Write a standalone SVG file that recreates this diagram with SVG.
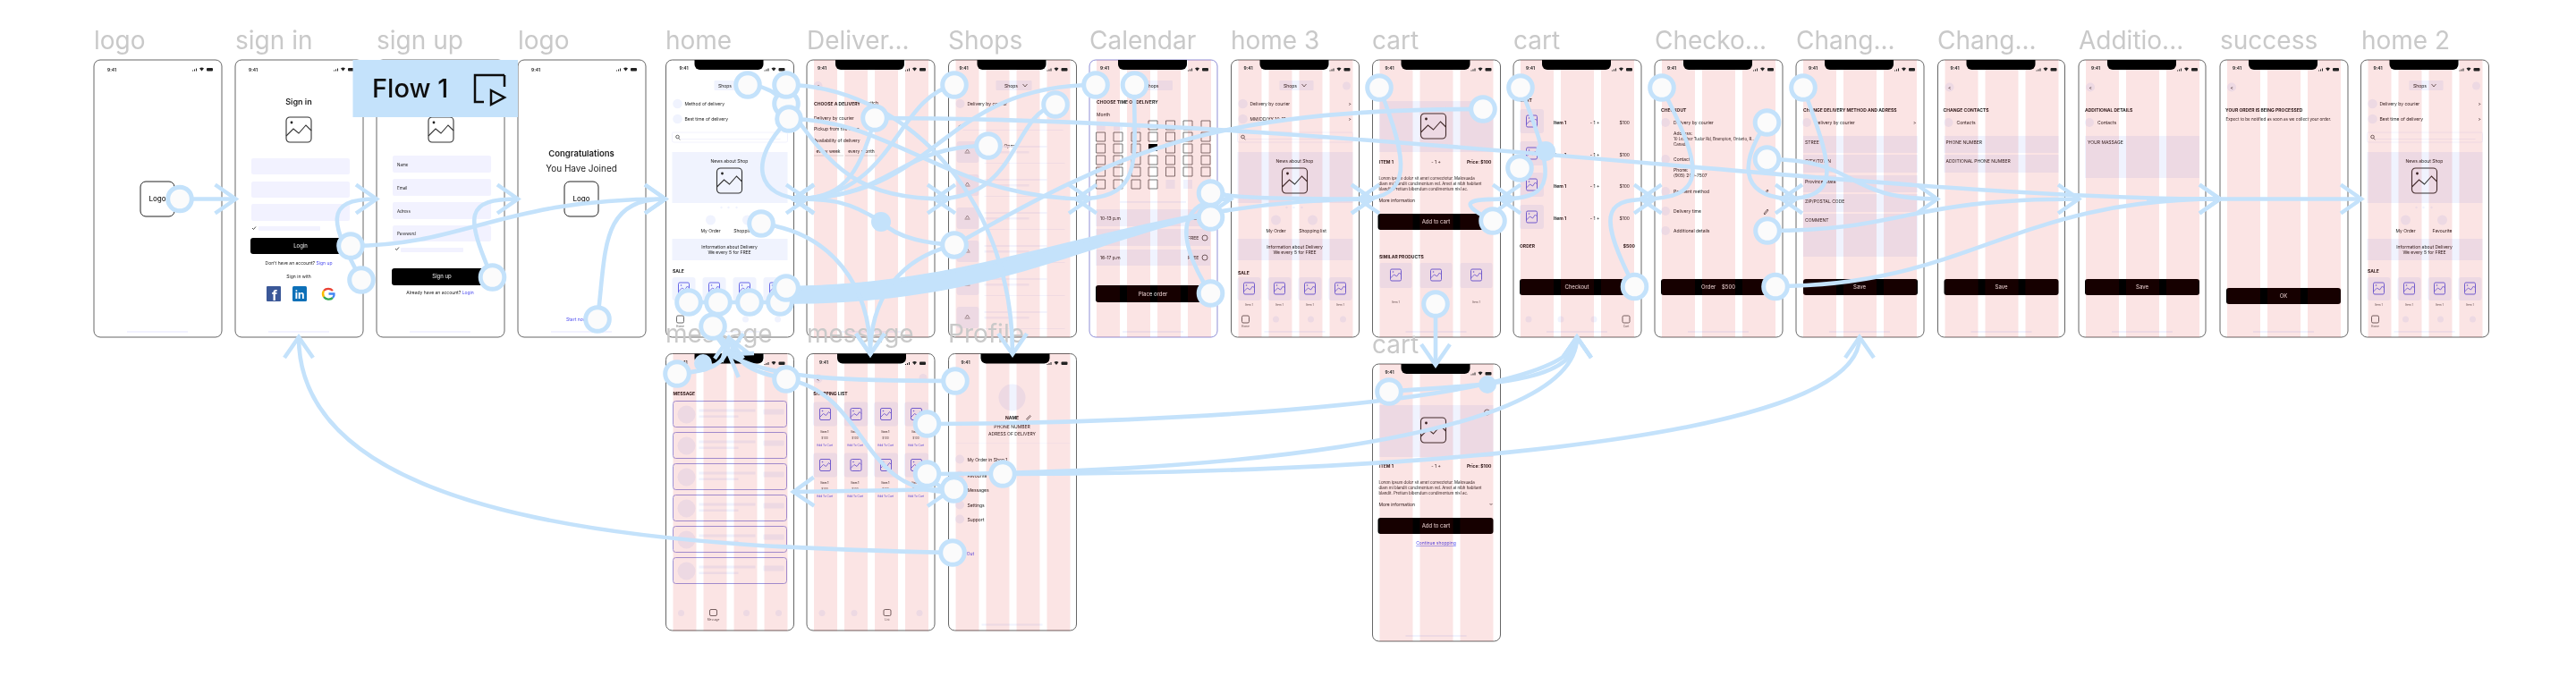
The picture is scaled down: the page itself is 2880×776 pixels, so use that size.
<svg xmlns="http://www.w3.org/2000/svg" width="2880" height="776" viewBox="0 0 2880 776">
<style>
text{font-family:Inter,"Liberation Sans",sans-serif;fill:#222;font-size:5px}
.lb{font-size:28px;fill:#c9c9c9}
.f{fill:#fff;stroke:#666;stroke-width:1}
.fc{fill:#fff;stroke:#8f8fd6;stroke-width:1}
.s{font-size:5px;font-weight:600}
.b{font-weight:700}
.m{text-anchor:middle}
.e{text-anchor:end}
.w{fill:#eee;font-size:6px;text-anchor:middle}
.k{fill:#4f4ff0}
.x{font-size:3.2px;fill:#555;text-anchor:middle}
.v{fill:#f2f2ff}
.v2{fill:#f0f3fe}
.pale{fill:#f0f1fd;opacity:.8}
.col{fill:#d90000;opacity:.106}
.btn{fill:#000}
.ln{fill:none;stroke:#c4e2fb;stroke-width:4.600}
.r{fill:#fbfbfb;stroke:#c4e2fb;stroke-width:5}
.d{fill:#c4e2fb}
.ic{fill:none;stroke:#444;stroke-width:.8}
.cell{fill:none;stroke:#555;stroke-width:.8}
</style>
<defs>
<filter id="soft" filterUnits="userSpaceOnUse" x="0" y="0" width="2880" height="776"><feGaussianBlur stdDeviation=".55"/></filter>
<marker id="a" markerUnits="userSpaceOnUse" markerWidth="32" markerHeight="44" refX="27" refY="22" orient="auto"><path d="M4,6 L27,22 L4,38" fill="none" stroke="#c4e2fb" stroke-width="4.500"/></marker>
<g id="st"><path d="M110,12.500h1v-1h-1zM112,12.500h1v-2h-1zM114,12.500h1v-3h-1z" fill="#222"/><path d="M118,9.500l2.500,3l2.500,-3a4,4 0 0 0 -5,0z" fill="#222"/><rect x="126" y="9" width="7" height="3.600" rx="1" fill="#222"/></g>
<path id="no" d="M32,0H109V5a6,6 0 0 1 -6,6H38a6,6 0 0 1 -6,-6z" fill="#000"/>
<g id="c4"><rect class="col" x="8" width="26" height="310"/><rect class="col" x="42" width="26" height="310"/><rect class="col" x="76" width="26" height="310"/><rect class="col" x="110" width="26" height="310"/></g>
<g id="c3"><rect class="col" x="8" width="37" height="310"/><rect class="col" x="53" width="37" height="310"/><rect class="col" x="98" width="37" height="310"/></g>
<g id="im"><rect width="28" height="28" rx="4" fill="none" stroke="#333" stroke-width="1.100"/><path d="M0,21L8,13L14,18L22,9L28,15" fill="none" stroke="#333" stroke-width="1.100"/><circle cx="6" cy="6" r="1.400" fill="#222"/></g>
<g id="ib"><rect width="12" height="13" rx="1.500" fill="none" stroke="#6666e6" stroke-width="1"/><path d="M0,10L4,6L7,8L10,4L12,6" fill="none" stroke="#6666e6" stroke-width=".9"/><circle cx="3" cy="3" r=".8" fill="#6666e6"/></g>
<g id="hb">
<rect class="v2" x="54" y="23" width="38" height="11" rx="1"/>
<circle class="v2" cx="13" cy="49" r="5.300"/><circle class="v2" cx="13" cy="66" r="5.300"/>
<rect x="7" y="81" width="129" height="11" rx="1.500" fill="none" stroke="#efeffc" stroke-width=".8"/>
<circle class="ic" cx="13" cy="86" r="1.800"/><path class="ic" d="M14.300,87.500l1.600,1.800"/>
<rect x="16" y="88" width="112" height=".8" fill="#efeffc"/>
<rect class="v2" x="7" y="103" width="129" height="57"/>
<use href="#im" x="57" y="121"/>
<circle class="v2" cx="62" cy="165" r="1.200"/><circle class="v2" cx="70" cy="165" r="1.200"/><circle class="v2" cx="79" cy="165" r="1.200"/>
<circle class="v2" cx="50" cy="179" r="5.500"/><circle class="v2" cx="91" cy="179" r="5.500"/>
<rect class="v2" x="7" y="200" width="129" height="24"/>
<rect class="v2" x="7" y="243" width="26" height="26" rx="3"/><rect class="v2" x="41" y="243" width="26" height="26" rx="3"/><rect class="v2" x="75" y="243" width="26" height="26" rx="3"/><rect class="v2" x="109" y="243" width="26" height="26" rx="3"/>
<use href="#ib" x="14" y="249"/><use href="#ib" x="48" y="249"/><use href="#ib" x="82" y="249"/><use href="#ib" x="116" y="249"/>
<rect x="12" y="286" width="8" height="8" rx="1.500" class="ic"/>
<circle class="v2" cx="50" cy="290" r="3.500"/><circle class="v2" cx="89" cy="290" r="3.500"/><circle class="v2" cx="125" cy="290" r="3.500"/>
<rect class="v2" x="37" y="303" width="68" height="1.800"/>
</g>
<g id="tile"><rect class="v2" width="27" height="27" rx="3"/><use href="#ib" x="7.500" y="7"/></g>
<g id="tile2"><rect class="v2" width="36" height="28" rx="2"/><use href="#ib" x="12" y="7"/></g>
<g id="shoprow"><rect class="v2" x="9" width="25" height="24" rx="3"/><path fill="none" stroke="#555" stroke-width=".6" d="M19,12l2,-3l2,3m-5,1h6"/><rect class="pale" x="40" y="5" width="70" height="2"/><rect class="pale" x="40" y="11" width="50" height="2.500"/><rect class="pale" x="40" y="24" width="90" height="1"/></g>
<g id="msg"><rect x="0" y="0" width="127" height="29" rx="3" fill="none" stroke="#8f8fe0" stroke-width=".9"/><circle class="v2" cx="15" cy="15" r="10"/><rect class="v2" x="29" y="9" width="63" height="3"/><rect class="v2" x="29" y="16" width="44" height="2.500"/><rect class="v2" x="101" y="9" width="23" height="6" rx="1"/></g>
</defs>
<g id="canvas" filter="url(#soft)">
<g id="frames">
<g id="f-logo" transform="translate(105 67)"><rect class="f" width="143" height="310" rx="7"/><text x="15" y="12.500" class="s">9:41</text><use href="#st"/><rect x="52" y="136" width="38" height="39" rx="6" fill="#fff" stroke="#222" stroke-width="1"/><text x="71" y="158" class="m" font-weight="500" style="font-size:8px">Logo</text><rect class="v" x="37" y="303" width="68" height="2"/></g>

<g id="f-signin" transform="translate(263 67)"><rect class="f" width="143" height="310" rx="7"/><text x="15" y="12.500" class="s">9:41</text><use href="#st"/>
<text x="71" y="50" class="m" style="font-size:9px;font-weight:600">Sign in</text><use href="#im" x="57" y="64"/>
<rect class="v" x="18" y="110" width="110" height="18" rx="2"/><rect class="v" x="18" y="136" width="110" height="18" rx="2"/><rect class="v" x="18" y="161" width="110" height="19" rx="2"/>
<path d="M19,188l1.500,1.500l2.500,-3" fill="none" stroke="#222" stroke-width=".8"/><rect class="v" x="26" y="186" width="69" height="5" rx="1"/>
<rect class="btn" x="17" y="199" width="112" height="18" rx="3"/><text x="73" y="210" class="w">Login</text>
<text x="71" y="229" class="m">Don't have an account? <tspan class="k">Sign up</tspan></text><text x="71" y="244" class="m">Sign in with</text>
<rect x="35" y="253" width="16" height="17" rx="1" fill="#3b5998"/><text x="44" y="269" style="font-size:15px;fill:#fff;font-weight:700" class="m">f</text>
<rect x="64" y="253" width="16" height="17" rx="1.500" fill="#0d6fb8"/><text x="72" y="267" style="font-size:12px;fill:#fff;font-weight:700" class="m">in</text>
<path d="M109,258a7,7 0 0 0 -10,0" fill="none" stroke="#ea4335" stroke-width="2.300"/><path d="M99,258a7,7 0 0 0 0,7" fill="none" stroke="#fbbc05" stroke-width="2.300"/><path d="M99,265a7,7 0 0 0 10,1" fill="none" stroke="#34a853" stroke-width="2.300"/><path d="M109,266q2,-2 1.500,-4.500h-6" fill="none" stroke="#4285f4" stroke-width="2.300"/>
<rect class="v" x="37" y="303" width="68" height="2"/></g>

<g id="f-signup" transform="translate(421 67)"><rect class="f" width="143" height="310" rx="7"/><use href="#im" x="58" y="64"/>
<rect class="v" x="18" y="107" width="110" height="19" rx="2"/><rect class="v" x="18" y="133" width="110" height="19" rx="2"/><rect class="v" x="18" y="159" width="110" height="19" rx="2"/><rect class="v" x="18" y="185" width="110" height="18" rx="2"/>
<text x="23" y="119" style="font-size:4.500px">Name</text><text x="23" y="145" style="font-size:4.500px">Email</text><text x="23" y="171" style="font-size:4.500px">Adress</text><text x="23" y="196" style="font-size:4.500px">Password</text>
<path d="M21,211l1.500,1.500l2.500,-3" fill="none" stroke="#222" stroke-width=".8"/><rect class="v" x="27" y="210" width="70" height="5" rx="1"/>
<rect class="btn" x="17" y="233" width="111" height="19" rx="3"/><text x="73" y="244" class="w">Sign up</text>
<text x="71" y="262" class="m">Already have an account? <tspan class="k">Login</tspan></text><rect class="v" x="37" y="303" width="68" height="2"/></g>

<g id="f-logo2" transform="translate(579 67)"><rect class="f" width="143" height="310" rx="7"/><text x="15" y="12.500" class="s">9:41</text><use href="#st"/>
<text x="71" y="108" class="m" style="font-size:9.500px;font-weight:600">Congratulations</text><text x="71" y="124.500" class="m" style="font-size:10px">You Have Joined</text>
<rect x="52" y="136" width="38" height="39" rx="6" fill="#fff" stroke="#222" stroke-width="1"/><text x="71" y="158" class="m" font-weight="500" style="font-size:8px">Logo</text><text x="54" y="292" class="k">Start now</text><rect class="v" x="37" y="303" width="68" height="2"/></g>

<g id="f-home" transform="translate(744.500 67)"><rect class="f" width="143" height="310" rx="7"/><use href="#hb"/><use href="#no"/><text x="15" y="11" class="s">9:41</text><use href="#st"/>
<text x="66" y="31" class="m">Shops</text><text x="21" y="51">Method of delivery</text><text x="21" y="68">Best time of delivery</text><text x="71" y="115" class="m">News about Shop</text><text x="50" y="193" class="m">My Order</text><text x="91" y="193" class="m">Shopping list</text><text x="71" y="210.500" class="m">Information about Delivery</text><text x="71" y="217" class="m">We every 5 for FREE</text><text x="7.500" y="238" class="b">SALE</text><text x="20" y="275" class="x">Item 1</text><text x="54" y="275" class="x">Item 1</text><text x="88" y="275" class="x">Item 1</text><text x="122" y="275" class="x">Item 1</text><text x="16" y="299" class="x">Home</text></g>

<g id="f-delivery" transform="translate(902 67)"><rect class="f" width="143" height="310" rx="7"/><circle class="v2" cx="12.500" cy="29" r="5"/><text x="11" y="31">&lt;</text><text x="8" y="51" class="b">CHOOSE A DELIVERY</text><text x="64" y="50">Switch</text><text x="8" y="67">Delivery by courier</text><text x="8" y="79">Pickup from the store</text><text x="8" y="91.500">Availability of delivery</text><path d="M8,107H41M43,107H79" stroke="#ccc" stroke-width=".7" fill="none"/><text x="24" y="103.500" class="m">every week</text><text x="61" y="103.500" class="m">every month</text><rect class="v2" x="37" y="303" width="68" height="2"/><use href="#c4"/><use href="#no"/><text x="12" y="11" class="s">9:41</text><use href="#st"/></g>

<g id="f-shops" transform="translate(1060.500 67)"><rect class="f" width="143" height="310" rx="7"/><rect class="v2" x="53" y="23" width="40" height="11" rx="1"/><text x="70" y="31" class="m">Shops</text><path class="ic" d="M83,27l2.500,3l2.500,-3"/><circle class="v2" cx="13" cy="49" r="5"/><text x="21" y="51">Delivery by courier</text><circle class="ic" cx="13" cy="75" r="1.800"/><rect x="16" y="78" width="112" height=".8" fill="#f0f1fd"/><text x="62" y="98">Open</text><use href="#shoprow" y="91"/><use href="#shoprow" y="128"/><use href="#shoprow" y="165"/><use href="#shoprow" y="202"/><use href="#shoprow" y="239"/><use href="#shoprow" y="276"/><use href="#c4"/><use href="#no"/><text x="12" y="11" class="s">9:41</text><use href="#st"/></g>

<g id="f-calendar" transform="translate(1218 67)"><rect class="fc" width="143" height="310" rx="7"/><rect class="v2" x="53" y="23" width="40" height="11" rx="1"/><text x="70" y="31" class="m">Shops</text><text x="8" y="49" class="b">CHOOSE TIME OF DELIVERY</text><text x="8" y="63">Month</text>
<path class="cell" d="M66,68h10v10h-10zM85.500,68h10v10h-10zM105,68h10v10h-10zM125,68h10v10h-10zM7.600,81h10v10h-10zM27,81h10v10h-10zM47,81h10v10h-10zM66,81h10v10h-10zM85.500,81h10v10h-10zM105,81h10v10h-10zM125,81h10v10h-10zM7.600,94h10v10h-10zM27,94h10v10h-10zM47,94h10v10h-10zM85.500,94h10v10h-10zM105,94h10v10h-10zM125,94h10v10h-10zM7.600,107h10v10h-10zM27,107h10v10h-10zM47,107h10v10h-10zM66,107h10v10h-10zM85.500,107h10v10h-10zM105,107h10v10h-10zM125,107h10v10h-10zM7.600,120h10v10h-10zM27,120h10v10h-10zM47,120h10v10h-10zM66,120h10v10h-10zM85.500,120h10v10h-10zM105,120h10v10h-10zM125,120h10v10h-10zM7.600,134h10v10h-10zM27,134h10v10h-10zM47,134h10v10h-10zM66,134h10v10h-10z"/>
<rect x="66" y="94" width="10" height="8" fill="#000"/><rect class="v2" x="7.600" y="71" width="10" height="8"/><rect class="v2" x="27" y="71" width="10" height="8"/><rect class="v2" x="47" y="71" width="10" height="8"/><rect class="v2" x="85.500" y="134" width="10" height="10"/><rect class="v2" x="105" y="134" width="10" height="10"/>
<rect class="v2" x="34" y="158" width="74" height="1.800"/>
<rect class="v2" x="7" y="167" width="128" height="19"/><rect class="v2" x="7" y="189" width="128" height="19"/><rect class="v2" x="7" y="212" width="128" height="18"/>
<text x="12" y="179">10-13 p.m</text><text x="110" y="179">FREE</text><text x="12" y="201">13-16 p.m</text><text x="110" y="201">FREE</text><text x="12" y="223">16-17 p.m</text><text x="110" y="223">FREE</text><circle class="ic" cx="129" cy="199" r="3"/><circle class="ic" cx="129" cy="221" r="3"/>
<rect class="btn" x="7" y="252" width="128" height="19" rx="3"/><text x="71" y="264" class="w">Place order</text><rect class="v2" x="37" y="303" width="68" height="2"/><use href="#c4"/><use href="#no"/><text x="12" y="11" class="s">9:41</text><use href="#st"/></g>

<g id="f-home3" transform="translate(1376.500 67)"><rect class="f" width="143" height="310" rx="7"/><use href="#hb"/><circle class="v2" cx="129" cy="29" r="4.500"/><text x="66" y="31" class="m">Shops</text><path class="ic" d="M79,27l2.500,3l2.500,-3"/><text x="21" y="51">Delivery by courier</text><text x="131" y="51">&gt;</text><text x="21" y="68">MM/DD/YY 10-12 a.m</text><text x="131" y="68">&gt;</text><text x="71" y="115" class="m">News about Shop</text><text x="50" y="193" class="m">My Order</text><text x="91" y="193" class="m">Shopping list</text><text x="71" y="210.500" class="m">Information about Delivery</text><text x="71" y="217" class="m">We every 5 for FREE</text><text x="7.500" y="240" class="b">SALE</text><text x="20" y="275" class="x">Item 1</text><text x="54" y="275" class="x">Item 1</text><text x="88" y="275" class="x">Item 1</text><text x="122" y="275" class="x">Item 1</text><text x="16" y="299" class="x">Home</text><use href="#c4"/><use href="#no"/><text x="14" y="11" class="s">9:41</text><use href="#st"/></g>

<g id="f-cart" transform="translate(1534.500 67)"><rect class="f" width="143" height="310" rx="7"/><rect class="v2" x="7.600" y="46" width="127.500" height="57"/><use href="#im" x="54" y="60"/><text x="7.600" y="116" class="b">ITEM 1</text><text x="71" y="116" class="m">- 1 +</text><text x="133" y="116" class="b e">Price: $100</text><text x="7" y="134" style="font-size:4.400px">Lorem ipsum dolor sit amet consectetur. Malesuada</text><text x="7" y="140" style="font-size:4.400px">diam mi blandit condimentum vel. Amet at nibh habitant</text><text x="7" y="146" style="font-size:4.400px">blandit. Pretium bibendum condimentum nisl ac.</text><text x="7" y="159">More information</text><rect class="btn" x="6" y="172" width="129" height="18" rx="3"/><text x="71" y="183" class="w">Add to cart</text><text x="7.600" y="222" class="b">SIMILAR PRODUCTS</text><use href="#tile2" x="8" y="227"/><use href="#tile2" x="53" y="227"/><use href="#tile2" x="98" y="227"/><text x="26" y="272" class="x">Item 1</text><text x="71" y="272" class="x">Item 1</text><text x="116" y="272" class="x">Item 1</text><rect class="v2" x="37" y="303" width="68" height="2"/><use href="#c3"/><use href="#no"/><text x="14" y="11" class="s">9:41</text><use href="#st"/></g>

<g id="f-cart2" transform="translate(1692 67)"><rect class="f" width="143" height="310" rx="7"/><text x="7" y="47" class="b">CART</text><use href="#tile" x="7" y="55"/><use href="#tile" x="7" y="91"/><use href="#tile" x="7" y="126"/><use href="#tile" x="7" y="162"/><text x="45" y="72" class="b">Item 1</text><text x="91" y="72" class="m">- 1 +</text><text x="130" y="72" class="e">$100</text><text x="45" y="108" class="b">Item 1</text><text x="91" y="108" class="m">- 1 +</text><text x="130" y="108" class="e">$100</text><text x="45" y="143" class="b">Item 1</text><text x="91" y="143" class="m">- 1 +</text><text x="130" y="143" class="e">$100</text><text x="45" y="179" class="b">Item 1</text><text x="91" y="179" class="m">- 1 +</text><text x="130" y="179" class="e">$100</text><text x="7" y="210" class="b">ORDER</text><text x="136" y="210" class="b e">$500</text><rect class="btn" x="7" y="245" width="129" height="18" rx="3"/><text x="71" y="256" class="w">Checkout</text><circle class="v2" cx="17" cy="290" r="3.500"/><circle class="v2" cx="53" cy="290" r="3.500"/><circle class="v2" cx="90" cy="290" r="3.500"/><rect x="122" y="286" width="8" height="8" rx="1.500" class="ic"/><text x="126" y="299" class="x">Cart</text><rect class="v2" x="37" y="303" width="68" height="2"/><use href="#c3"/><use href="#no"/><text x="14" y="11" class="s">9:41</text><use href="#st"/></g>

<g id="f-checkout" transform="translate(1850 67)"><rect class="f" width="143" height="310" rx="7"/><text x="7" y="57.500" class="b">CHECKOUT</text><circle class="v2" cx="12" cy="70" r="5"/><text x="21" y="72">Delivery by courier</text><text x="21" y="84">Address:</text><text x="21" y="90" style="font-size:4.400px">10 Leather Tudor Rd, Brampton, Ontario, R..</text><text x="21" y="96" style="font-size:4.400px">Canada</text><circle class="v2" cx="12" cy="111" r="5"/><text x="21" y="113">Contacts</text><text x="21" y="125">Phone:</text><text x="21" y="131">(905) 200-7507</text><circle class="v2" cx="12" cy="147" r="5"/><text x="21" y="149">Payment method</text><circle class="v2" cx="12" cy="169" r="5"/><text x="21" y="171">Delivery time</text><circle class="v2" cx="12" cy="191" r="5"/><text x="21" y="193">Additional details</text><path class="ic" d="M122,150l4,-5l1,1l-4,5zM122,172l4,-5l1,1l-4,5z"/><rect class="btn" x="7" y="245" width="129" height="18" rx="3"/><text x="71" y="256" class="w" xml:space="preserve">Order    $500</text><rect class="v2" x="37" y="303" width="68" height="2"/><use href="#c3"/><use href="#no"/><text x="14" y="11" class="s">9:41</text><use href="#st"/></g>

<g id="f-change" transform="translate(2008 67)"><rect class="f" width="143" height="310" rx="7"/><text x="8" y="57.500" class="b">CHANGE DELIVERY METHOD AND ADRESS</text><circle class="v2" cx="12" cy="70" r="5"/><text x="21" y="72">Delivery by courier</text><text x="131" y="72">&gt;</text><rect class="v2" x="8" y="85" width="128" height="19"/><rect class="v2" x="8" y="106" width="128" height="20"/><rect class="v2" x="8" y="129" width="128" height="19"/><rect class="v2" x="8" y="150" width="128" height="20"/><rect class="v2" x="8" y="172" width="128" height="48"/><text x="10" y="94">STREET</text><text x="10" y="115">CITY/TOWN</text><text x="10" y="138">Province/State</text><text x="10" y="160">ZIP/POSTAL CODE</text><text x="10" y="181">COMMENT</text><rect class="btn" x="8" y="245" width="128" height="18" rx="3"/><text x="71" y="256" class="w">Save</text><rect class="v2" x="37" y="303" width="68" height="2"/><use href="#c3"/><use href="#no"/><text x="14" y="11" class="s">9:41</text><use href="#st"/></g>

<g id="f-change2" transform="translate(2166.500 67)"><rect class="f" width="142" height="310" rx="7"/><circle class="v2" cx="13" cy="30.500" r="5"/><text x="11.500" y="32.500">&lt;</text><text x="6" y="57.500" class="b">CHANGE CONTACTS</text><circle class="v2" cx="12" cy="70" r="5"/><text x="21" y="72">Contacts</text><rect class="v2" x="7" y="85" width="128" height="19"/><rect class="v2" x="7" y="106" width="128" height="20"/><text x="9" y="94">PHONE NUMBER</text><text x="9" y="115">ADDITIONAL PHONE NUMBER</text><rect class="btn" x="7" y="245" width="128" height="18" rx="3"/><text x="71" y="256" class="w">Save</text><rect class="v2" x="37" y="303" width="68" height="2"/><use href="#c3"/><use href="#no"/><text x="14" y="11" class="s">9:41</text><use href="#st"/></g>

<g id="f-additional" transform="translate(2324 67)"><rect class="f" width="142" height="310" rx="7"/><circle class="v2" cx="13" cy="30.500" r="5"/><text x="11.500" y="32.500">&lt;</text><text x="7" y="57.500" class="b">ADDITIONAL DETAILS</text><circle class="v2" cx="12" cy="70" r="5"/><text x="21" y="72">Contacts</text><rect class="v2" x="7" y="85" width="128" height="47"/><text x="10" y="94">YOUR MASSAGE</text><rect class="btn" x="7" y="245" width="128" height="18" rx="3"/><text x="71" y="256" class="w">Save</text><rect class="v2" x="37" y="303" width="68" height="2"/><use href="#c3"/><use href="#no"/><text x="14" y="11" class="s">9:41</text><use href="#st"/></g>

<g id="f-success" transform="translate(2482 67)"><rect class="f" width="143" height="310" rx="7"/><circle class="v2" cx="13" cy="30.500" r="5"/><text x="11.500" y="32.500">&lt;</text><text x="6" y="57.500" class="b">YOUR ORDER IS BEING PROCESSED</text><text x="6.500" y="67.500" style="font-size:4.600px">Expect to be notified as soon as we collect your order.</text><rect class="btn" x="7" y="255" width="128" height="18" rx="3"/><text x="71" y="266" class="w">OK</text><rect class="v2" x="37" y="303" width="68" height="2"/><use href="#c3"/><use href="#no"/><text x="14" y="11" class="s">9:41</text><use href="#st"/></g>

<g id="f-home2" transform="translate(2639.500 67)"><rect class="f" width="143" height="310" rx="7"/><use href="#hb"/><circle class="v2" cx="129" cy="29" r="4.500"/><text x="66" y="31" class="m">Shops</text><path class="ic" d="M79,27l2.500,3l2.500,-3"/><text x="21" y="51">Delivery by courier</text><text x="131" y="51">&gt;</text><text x="21" y="68">Best time of delivery</text><text x="131" y="68">&gt;</text><text x="71" y="115" class="m">News about Shop</text><text x="50" y="193" class="m">My Order</text><text x="91" y="193" class="m">Favourite</text><text x="71" y="210.500" class="m">Information about Delivery</text><text x="71" y="217" class="m">We every 5 for FREE</text><text x="7.500" y="238" class="b">SALE</text><text x="20" y="275" class="x">Item 1</text><text x="54" y="275" class="x">Item 1</text><text x="88" y="275" class="x">Item 1</text><text x="122" y="275" class="x">Item 1</text><text x="16" y="299" class="x">Home</text><use href="#c4"/><use href="#no"/><text x="14" y="11" class="s">9:41</text><use href="#st"/></g>

<g id="f-message" transform="translate(744.500 395.500)"><rect class="f" width="143" height="309.500" rx="7"/><text x="8" y="46" class="b">MESSAGE</text><use href="#msg" x="8" y="53"/><use href="#msg" x="8" y="88"/><use href="#msg" x="8" y="123"/><use href="#msg" x="8" y="158"/><use href="#msg" x="8" y="193"/><use href="#msg" x="8" y="228"/><circle class="v2" cx="17" cy="290" r="3.500"/><rect x="49" y="286" width="8" height="7" rx="1.500" class="ic"/><text x="53" y="298" class="x">Message</text><circle class="v2" cx="90" cy="290" r="3.500"/><circle class="v2" cx="126" cy="290" r="3.500"/><use href="#c4"/><use href="#no"/><text x="14" y="11" class="s">9:41</text><use href="#st"/></g>

<g id="f-list" transform="translate(902 395.500)"><rect class="f" width="143" height="309.500" rx="7"/><circle class="v2" cx="12.500" cy="28" r="5"/><text x="11" y="30">&lt;</text><circle class="v2" cx="130" cy="27" r="4.500"/><text x="7.300" y="46" class="b">SHOPPING LIST</text><use href="#tile" x="7" y="54"/><use href="#tile" x="41.500" y="54"/><use href="#tile" x="75" y="54"/><use href="#tile" x="109" y="54"/><use href="#tile" x="7" y="111"/><use href="#tile" x="41.500" y="111"/><use href="#tile" x="75" y="111"/><use href="#tile" x="109" y="111"/>
<g><text x="20" y="88" class="x b">Item 1</text><text x="54" y="88" class="x b">Item 1</text><text x="88" y="88" class="x b">Item 1</text><text x="122" y="88" class="x b">Item 1</text><text x="20" y="95" class="x">$100</text><text x="54" y="95" class="x">$100</text><text x="88" y="95" class="x">$100</text><text x="122" y="95" class="x">$100</text><text x="20" y="103" class="x" style="fill:#4f4ff0">Add To Cart</text><text x="54" y="103" class="x" style="fill:#4f4ff0">Add To Cart</text><text x="88" y="103" class="x" style="fill:#4f4ff0">Add To Cart</text><text x="122" y="103" class="x" style="fill:#4f4ff0">Add To Cart</text><text x="20" y="145" class="x b">Item 1</text><text x="54" y="145" class="x b">Item 1</text><text x="88" y="145" class="x b">Item 1</text><text x="122" y="145" class="x b">Item 1</text><text x="20" y="152" class="x">$100</text><text x="54" y="152" class="x">$100</text><text x="88" y="152" class="x">$100</text><text x="122" y="152" class="x">$100</text><text x="20" y="160" class="x" style="fill:#4f4ff0">Add To Cart</text><text x="54" y="160" class="x" style="fill:#4f4ff0">Add To Cart</text><text x="88" y="160" class="x" style="fill:#4f4ff0">Add To Cart</text><text x="122" y="160" class="x" style="fill:#4f4ff0">Add To Cart</text></g>
<circle class="v2" cx="17" cy="290" r="3.500"/><circle class="v2" cx="53" cy="290" r="3.500"/><rect x="86" y="286" width="8" height="7" rx="1.500" class="ic"/><text x="90" y="298" class="x">List</text><circle class="v2" cx="126" cy="290" r="3.500"/><use href="#c4"/><use href="#no" x="2"/><text x="14" y="11" class="s">9:41</text><use href="#st"/></g>

<g id="f-profile" transform="translate(1060.500 395.500)"><rect class="f" width="143" height="309.500" rx="7"/><circle class="v2" cx="71" cy="49" r="15"/><text x="71" y="73" class="m b">NAME</text><path class="ic" d="M87,73l4,-4l1,1l-4,4z"/><text x="71" y="83" class="m">PHONE NUMBER</text><text x="71" y="91.500" class="m">ADRESS OF DELIVERY</text><rect class="v2" x="8" y="100" width="128" height=".5"/><circle class="v2" cx="12.500" cy="118" r="5"/><text x="21" y="120">My Order in Shop 1</text><circle class="v2" cx="12.500" cy="136" r="5"/><text x="21" y="138">Favourite</text><circle class="v2" cx="12.500" cy="152" r="5"/><text x="21" y="154">Messages</text><circle class="v2" cx="12.500" cy="169" r="5"/><text x="21" y="171">Settings</text><circle class="v2" cx="12.500" cy="185" r="5"/><text x="21" y="187">Support</text><text x="10" y="225" class="k">Log Out</text><rect class="v2" x="37" y="302" width="68" height="2"/><use href="#c4"/><use href="#no" x="4"/><text x="14" y="11" class="s">9:41</text><use href="#st"/></g>

<g id="f-cart3" transform="translate(1534.500 407)"><rect class="f" width="143" height="310" rx="7"/><rect class="v2" x="7.600" y="46" width="127.500" height="58"/><use href="#im" x="54" y="60"/><circle class="ic" cx="128" cy="54" r="3"/><text x="7.600" y="116" class="b">ITEM 1</text><text x="71" y="116" class="m">- 1 +</text><text x="133" y="116" class="b e">Price: $100</text><text x="7" y="134" style="font-size:4.400px">Lorem ipsum dolor sit amet consectetur. Malesuada</text><text x="7" y="140" style="font-size:4.400px">diam mi blandit condimentum vel. Amet at nibh habitant</text><text x="7" y="146" style="font-size:4.400px">blandit. Pretium bibendum condimentum nisl ac.</text><text x="7" y="159">More information</text><path class="ic" d="M131,156l1.500,1.500l1.500,-1.500"/><rect class="btn" x="6" y="172" width="129" height="18" rx="3"/><text x="71" y="183" class="w">Add to cart</text><text x="71" y="202" class="m k" text-decoration="underline">Continue shopping</text><rect class="v2" x="37" y="303" width="68" height="2"/><use href="#c3"/><use href="#no"/><text x="14" y="11" class="s">9:41</text><use href="#st"/></g>
</g>

<g id="labels">
<text class="lb" x="105" y="55">logo</text><text class="lb" x="263" y="55">sign in</text><text class="lb" x="421" y="55">sign up</text><text class="lb" x="579" y="55">logo</text><text class="lb" x="744" y="55">home</text><text class="lb" x="902" y="55">Deliver...</text><text class="lb" x="1060" y="55">Shops</text><text class="lb" x="1218" y="55">Calendar</text><text class="lb" x="1376" y="55">home 3</text><text class="lb" x="1534" y="55">cart</text><text class="lb" x="1692" y="55">cart</text><text class="lb" x="1850" y="55">Checko...</text><text class="lb" x="2008" y="55">Chang...</text><text class="lb" x="2166" y="55">Chang...</text><text class="lb" x="2324" y="55">Additio...</text><text class="lb" x="2482" y="55">success</text><text class="lb" x="2640" y="55">home 2</text><text class="lb" x="744" y="383">message</text><text class="lb" x="902" y="383">message</text><text class="lb" x="1060" y="383">Profile</text><text class="lb" x="1534" y="395">cart</text>
</g>

<g id="flow-badge"><rect x="394.500" y="67" width="184.500" height="64" fill="#c4e2fb"/><text x="416" y="109" style="font-size:29px;font-weight:500;fill:#111">Flow 1</text><path d="M564,84H531V114H541M564,84V97" fill="none" stroke="#111" stroke-width="2.500"/><path d="M549,101L564,109L549,117z" fill="none" stroke="#111" stroke-width="2.500"/></g>

<g id="connectors">
<path class="d" d="M879,320C1120,320 1270,222.500 1534,222.500C1250,222.500 1190,340 872,340z"/>
<path class="ln" marker-end="url(#a)" d="M201,222.500H263.500"/>
<path class="ln" marker-end="url(#a)" d="M404,313C370,250 360,222.500 421,222.500"/>
<path class="ln" marker-end="url(#a)" d="M392,275C520,275 560,222.500 744,222.500"/>
<path class="ln" marker-end="url(#a)" d="M550,310C520,240 520,222.500 579,222.500"/>
<path class="ln" marker-end="url(#a)" d="M668,357C678,280 670,222.500 744,222.500"/>
<path class="ln" marker-end="url(#a)" d="M978,132C960,200 940,222.500 887,222.500"/>
<path class="ln" marker-end="url(#a)" d="M1067,95C1000,110 1000,222.500 887,222.500"/>
<path class="ln" marker-end="url(#a)" d="M1105,163C1000,163 1000,222.500 887,222.500"/>
<path class="ln" marker-end="url(#a)" d="M1225,95C1050,95 1050,222.500 887,222.500"/>
<path class="ln" marker-end="url(#a)" d="M985,248C950,225 930,222.500 887,222.500"/>
<path class="ln" marker-end="url(#a)" d="M882,133C835,180 845,222.500 902,222.500"/>
<path class="ln" marker-end="url(#a)" d="M879,116C930,190 960,222.500 1060,222.500"/>
<path class="ln" d="M836,95C850,95 865,100 879,116"/>
<path class="ln" marker-end="url(#a)" d="M882,133C1000,133 1060,222.500 1218,222.500"/>
<path class="ln" marker-end="url(#a)" d="M1180,117C1130,130 1140,222.500 1045,222.500"/>
<path class="ln" marker-end="url(#a)" d="M1268,95C1268,180 1280,222.500 1203,222.500"/>
<path class="ln" marker-end="url(#a)" d="M879,95C1000,95 1132,210 1132,396"/>
<path class="ln" marker-end="url(#a)" d="M851,250C930,260 973,320 973,396"/>
<path class="ln" marker-end="url(#a)" d="M1067,274C1000,290 973,340 973,396"/>
<path class="ln" d="M985,248C1005,268 1040,272 1067,274"/>
<path class="ln" d="M1658,122C1350,122 1250,170 1067,274"/>
<path class="ln" marker-end="url(#a)" d="M978,132C1500,132 2100,222.500 2482,222.500"/>
<path class="ln" d="M770,338H872"/>
<path class="ln" marker-end="url(#a)" d="M879,322C1120,322 1270,222.500 1534,222.500"/>
<path class="ln" marker-end="url(#a)" d="M1353,216C1380,220 1400,222.500 1534,222.500"/>
<path class="ln" marker-end="url(#a)" d="M1353,328C1310,260 1320,222.500 1376,222.500"/>
<path class="ln" marker-end="url(#a)" d="M1542,98C1575,180 1580,222.500 1519,222.500"/>
<path class="ln" marker-end="url(#a)" d="M1700,98C1740,200 1740,222.500 1677,222.500"/>
<path class="ln" marker-end="url(#a)" d="M1669,247C1620,222.500 1650,222.500 1692,222.500"/>
<path class="ln" marker-end="url(#a)" d="M1858,98C1905,190 1910,222.500 1834.500,222.500"/>
<path class="ln" marker-end="url(#a)" d="M1827,320C1780,230 1800,222.500 1850,222.500"/>
<path class="ln" marker-end="url(#a)" d="M2016,98C2050,190 2060,222.500 1992,222.500"/>
<path class="ln" marker-end="url(#a)" d="M1975,137C1940,190 1950,222.500 2008,222.500"/>
<path class="ln" marker-end="url(#a)" d="M1976,178C2080,178 2060,222.500 2166,222.500"/>
<path class="ln" marker-end="url(#a)" d="M1976,258C2130,258 2130,222.500 2324,222.500"/>
<path class="ln" marker-end="url(#a)" d="M1985,320C2200,320 2250,222.500 2482,222.500"/>
<path class="ln" marker-end="url(#a)" d="M2400,222.500H2640"/>
<path class="ln" marker-end="url(#a)" d="M1605,340V408"/>
<path class="ln" marker-end="url(#a)" d="M797,365C800,375 815,380 815,396"/>
<path class="ln" marker-end="url(#a)" d="M757,418C790,415 815,410 815,378"/>
<path class="ln" marker-end="url(#a)" d="M879,424C840,415 825,410 815,378"/>
<path class="ln" marker-end="url(#a)" d="M1067,426C960,426 860,425 815,396"/>
<path class="ln" marker-end="url(#a)" d="M879,424C970,440 960,550 1060,550"/>
<path class="ln" marker-end="url(#a)" d="M1067,547L887,550"/>
<path class="ln" marker-end="url(#a)" d="M1065,618C800,612 334,600 334,377"/>
<path class="ln" marker-end="url(#a)" d="M1036,474C1300,474 1763,450 1763,377"/>
<path class="ln" marker-end="url(#a)" d="M1036,530C1300,530 1763,500 1763,377"/>
<path class="ln" marker-end="url(#a)" d="M1121,530C1500,530 2079,500 2079,377"/>
<path class="ln" marker-end="url(#a)" d="M1552,438C1650,430 1763,430 1763,377"/>
<g id="hotspots">
<circle class="r" cx="201" cy="222.500" r="13.300"/><circle class="r" cx="392" cy="275" r="13.300"/><circle class="r" cx="404" cy="313" r="13.300"/><circle class="r" cx="550.500" cy="310" r="13.300"/><circle class="r" cx="668" cy="357" r="13.300"/>
<circle class="r" cx="879" cy="116" r="13.300"/><circle class="r" cx="836" cy="95" r="13.300"/><circle class="r" cx="879" cy="95" r="13.300"/><circle class="r" cx="882" cy="133" r="13.300"/><circle class="r" cx="851" cy="250" r="13.300"/>
<circle class="r" cx="872" cy="338" r="13.300"/><circle class="r" cx="879" cy="322" r="13.300"/><circle class="r" cx="770" cy="338" r="13.300"/><circle class="r" cx="803" cy="338" r="13.300"/><circle class="r" cx="838" cy="338" r="13.300"/><circle class="r" cx="797" cy="365" r="13.300"/>
<circle class="r" cx="978" cy="132" r="13.300"/><circle class="d" cx="985" cy="248" r="11"/>
<circle class="r" cx="1067" cy="95" r="13.300"/><circle class="r" cx="1105" cy="163" r="13.300"/><circle class="r" cx="1067" cy="274" r="13.300"/><circle class="r" cx="1180" cy="117" r="13.300"/>
<circle class="r" cx="1225" cy="95" r="13.300"/><circle class="r" cx="1268.500" cy="95" r="13.300"/><circle class="r" cx="1353.500" cy="216" r="13.300"/><circle class="r" cx="1353.500" cy="243" r="13.300"/><circle class="r" cx="1353.500" cy="328" r="13.300"/>
<circle class="r" cx="1542" cy="98" r="13.300"/><circle class="r" cx="1658" cy="122" r="13.300"/><circle class="r" cx="1669" cy="247" r="13.300"/><circle class="r" cx="1605" cy="340" r="13.300"/>
<circle class="r" cx="1700" cy="98" r="13.300"/><circle class="r" cx="1699" cy="188" r="13.300"/><circle class="d" cx="1728" cy="169" r="11"/><circle class="r" cx="1827.500" cy="320.500" r="13.300"/>
<circle class="r" cx="1858" cy="98" r="13.300"/><circle class="r" cx="1975.500" cy="137" r="13.300"/><circle class="r" cx="1975.500" cy="178" r="13.300"/><circle class="r" cx="1976" cy="258" r="13.300"/><circle class="r" cx="1985" cy="320.500" r="13.300"/><circle class="r" cx="2016" cy="98" r="13.300"/>
<circle class="r" cx="757" cy="418" r="13.300"/><circle class="d" cx="786" cy="406" r="10"/><circle class="r" cx="879" cy="424" r="13.300"/>
<circle class="r" cx="1068" cy="426" r="13.300"/><circle class="r" cx="1036.500" cy="474" r="13.300"/><circle class="r" cx="1036.500" cy="530" r="13.300"/><circle class="r" cx="1121" cy="530" r="13.300"/><circle class="r" cx="1066.500" cy="547" r="13.300"/><circle class="r" cx="1065" cy="618" r="13.300"/>
<circle class="r" cx="1553" cy="438" r="13.300"/><circle class="d" cx="1663" cy="430" r="10"/>
</g>
</g>
</g>
</svg>
